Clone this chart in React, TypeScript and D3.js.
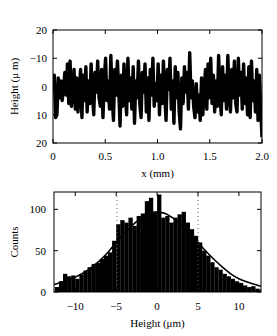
import React from 'react';
import * as d3 from 'd3';

// surface profile, height in µm, evenly spaced over 0..2 mm
const profile = [
  0, -4, 11, 10, -3, 4, -2, 5, 1, -5, 3, -8, 6, -9, 7, 2, -6, 8, -3, 9,
  1, -6, 11, -4, 5, -7, 9, -2, 6, -8, 3, 10, -5, 2, -9, 4, 7, -6, 11, -3,
  -10, 5, -2, 8, -11, 4, 12, -6, 3, -9, 1, 14, -4, 7, -8, 2, 10, -10, 5, -3,
  8, -7, 13, -2, 4, -9, 6, 11, -5, 2, -8, 9, -3, 12, -6, 3, -10, 7, -1, 5,
  -8, 10, -4, 6, -9, 3, 12, -6, 1, -10, 8, -2, 13, -7, 4, -5, 9, 15, -3, 6,
  -7, 2, -5, 8, -12, 4, -2, 7, 11, -1, 9, 3, 12, -3, 10, 1, -6, 8, -8, 4,
  -10, 6, -4, 9, -2, 7, -11, 3, 10, -7, 5, -4, 8, -11, 2, 9, -6, 4, -9, 6,
  9, -10, 3, -5, 8, -8, 6, -3, 10, -7, 11, -9, 5, -2, 9, -6, 12, -4, 8, 18,
];
const profileXTicks = [0, 0.5, 1.0, 1.5, 2.0];
const profileXLabels = ['0', '0.5', '1.0', '1.5', '2.0'];
const profileYTicks = [-20, -10, 0, 10, 20];
const profileYLabels = ['20', '\u221210', '0', '10', '20'];

// histogram, bins of 0.5 µm starting at -12.5
const binStart = -12.5;
const binWidth = 0.5;
const counts = [
  6, 13, 22, 19, 20, 16, 21, 26, 30, 34, 35, 40, 44, 48, 62, 82, 87, 84, 90, 80,
  92, 95, 110, 114, 96, 118, 90, 92, 84, 90, 94, 97, 84, 76, 68, 60, 50, 44, 36, 30,
  27, 22, 19, 16, 13, 11, 8, 6, 7, 4, 3,
];
// fitted normal curve
const fitX = [-12.6, -12, -11, -10, -9, -8, -7, -6, -5, -4, -3, -2, -1, 0, 1, 2, 3, 4, 5, 6, 7, 8, 9, 10, 11, 12, 12.7];
const fitY = [9, 11, 14, 18, 23, 30, 38, 48, 60, 71, 81, 89, 95, 97, 95, 89, 81, 71, 60, 49, 39, 30, 22, 16, 12, 9, 7];
const sigmaLines = [-4.9, 5.0];
const histXTicks = [-10, -5, 0, 5, 10];
const histXLabels = ['\u221210', '\u22125', '0', '5', '10'];
const histYTicks = [0, 50, 100];

const font = 'Liberation Serif, Times New Roman, serif';

export default function App() {
  // top panel
  const t = { left: 53, right: 262, top: 30, bottom: 143 };
  const x1 = d3.scaleLinear().domain([0, 2]).range([t.left, t.right]);
  const y1 = d3.scaleLinear().domain([-20, 20]).range([t.top, t.bottom]);
  const n = profile.length;
  const line1 = d3.line<number>()
    .x((_, i) => x1((i * 2) / (n - 1)))
    .y((d) => y1(d));

  // bottom panel
  const b = { left: 54, right: 261, top: 192, bottom: 292 };
  const x2 = d3.scaleLinear().domain([-12.6, 12.7]).range([b.left, b.right]);
  const y2 = d3.scaleLinear().domain([0, 121]).range([b.bottom, b.top]);
  const fitLine = d3.line<number>()
    .x((d) => x2(d))
    .y((_, i) => y2(fitY[i]))
    .curve(d3.curveCatmullRom);

  const tk = 4;
  return (
    <svg width={277} height={336} style={{ position: 'absolute', left: 0, top: 0, background: '#fff' }} fontFamily={font}>
      <defs>
        <clipPath id="c1"><rect x={t.left} y={t.top} width={t.right - t.left} height={t.bottom - t.top} /></clipPath>
        <clipPath id="c2"><rect x={b.left} y={b.top} width={b.right - b.left} height={b.bottom - b.top} /></clipPath>
      </defs>

      {/* ---- profile ---- */}
      <path d={line1(profile) || ''} fill="none" stroke="#000" strokeWidth={3.4} strokeLinejoin="round" clipPath="url(#c1)" />
      <rect x={t.left} y={t.top} width={t.right - t.left} height={t.bottom - t.top} fill="none" stroke="#000" strokeWidth={1} />
      {profileXTicks.map((v, i) => (
        <g key={'px' + i}>
          <line x1={x1(v)} x2={x1(v)} y1={t.bottom} y2={t.bottom - tk} stroke="#000" />
          <line x1={x1(v)} x2={x1(v)} y1={t.top} y2={t.top + tk} stroke="#000" />
          <text x={x1(v)} y={t.bottom + 17} fontSize={11} textAnchor="middle">{profileXLabels[i]}</text>
        </g>
      ))}
      {profileYTicks.map((v, i) => (
        <g key={'py' + i}>
          <line x1={t.left} x2={t.left + tk} y1={y1(v)} y2={y1(v)} stroke="#000" />
          <line x1={t.right} x2={t.right - tk} y1={y1(v)} y2={y1(v)} stroke="#000" />
          <text x={t.left - 6} y={y1(v) + 4} fontSize={11} textAnchor="end">{profileYLabels[i]}</text>
        </g>
      ))}
      <text x={(t.left + t.right) / 2} y={177} fontSize={11} textAnchor="middle">x (mm)</text>
      <text transform={`translate(18,${(t.top + t.bottom) / 2}) rotate(-90)`} fontSize={11} textAnchor="middle">Height (μ m)</text>

      {/* ---- histogram ---- */}
      <g clipPath="url(#c2)">
        {counts.map((c, i) => {
          const x0 = x2(binStart + i * binWidth);
          const xw = x2(binStart + (i + 1) * binWidth) - x0;
          return <rect key={'b' + i} x={x0} y={y2(c)} width={xw + 0.2} height={b.bottom - y2(c)} fill="#000" />;
        })}
        {sigmaLines.map((v, i) => (
          <line key={'s' + i} x1={x2(v)} x2={x2(v)} y1={b.top} y2={b.bottom} stroke="#666" strokeDasharray="1,3" />
        ))}
        <path d={fitLine(fitX) || ''} fill="none" stroke="#000" strokeWidth={1.6} />
      </g>
      <rect x={b.left} y={b.top} width={b.right - b.left} height={b.bottom - b.top} fill="none" stroke="#000" strokeWidth={1} />
      {histXTicks.map((v, i) => (
        <g key={'hx' + i}>
          <line x1={x2(v)} x2={x2(v)} y1={b.bottom} y2={b.bottom - tk} stroke="#000" />
          <line x1={x2(v)} x2={x2(v)} y1={b.top} y2={b.top + tk} stroke="#000" />
          <text x={x2(v)} y={b.bottom + 18} fontSize={11} textAnchor="middle">{histXLabels[i]}</text>
        </g>
      ))}
      {histYTicks.map((v, i) => (
        <g key={'hy' + i}>
          <line x1={b.left} x2={b.left + tk} y1={y2(v)} y2={y2(v)} stroke="#000" />
          <line x1={b.right} x2={b.right - tk} y1={y2(v)} y2={y2(v)} stroke="#000" />
          <text x={b.left - 8} y={y2(v) + 4} fontSize={11} textAnchor="end">{v}</text>
        </g>
      ))}
      <text x={(b.left + b.right) / 2} y={327} fontSize={11} textAnchor="middle">Height (μm)</text>
      <text transform={`translate(18,${(b.top + b.bottom) / 2}) rotate(-90)`} fontSize={11} textAnchor="middle">Counts</text>
    </svg>
  );
}
